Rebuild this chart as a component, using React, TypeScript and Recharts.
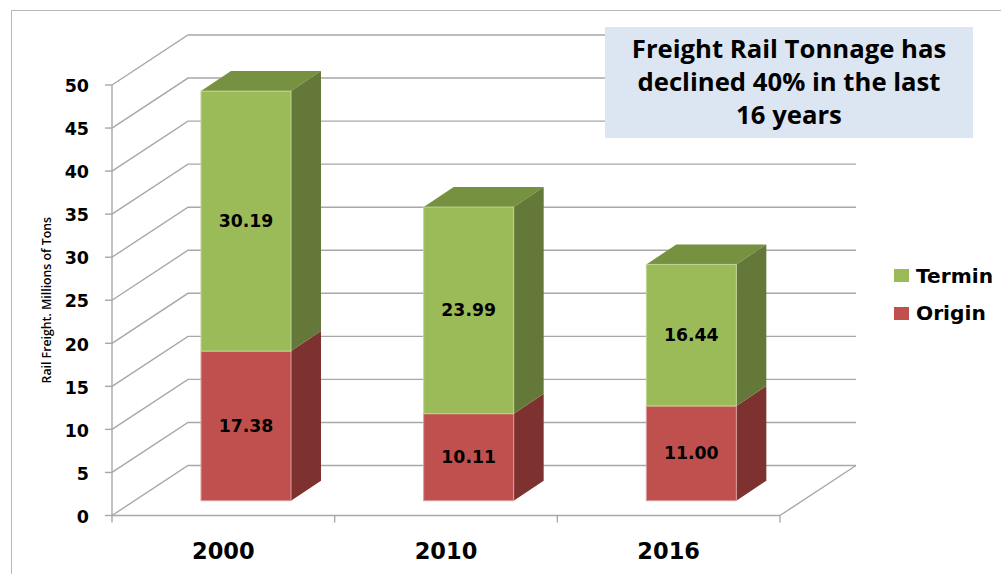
import { Bar, BarChart, CartesianGrid, LabelList, Legend, XAxis, YAxis } from "recharts";

const categories = ["2000", "2010", "2016"];
const originValues = [17.38, 10.11, 11.0];
const terminValues = [30.19, 23.99, 16.44];
const yTicks = [0, 5, 10, 15, 20, 25, 30, 35, 40, 45, 50];
const titleLines = ["Freight Rail Tonnage has", "declined 40% in the last", "16 years"];

const rows = categories.map((name, i) => ({
    name,
    Origin: originValues[i],
    Termin: terminValues[i],
}));

const WIDTH = 1001;
const HEIGHT = 574;
const LEFT = 112;
const RIGHT = 780;
const TOP = 85;
const BOTTOM = 515.5;

// fake 3d: wall depth, bar depth, and where the bars sit on the floor
const WALL_DX = 76;
const WALL_DY = 50;
const BAR_DX = 30;
const BAR_DY = 20;
const SHIFT_X = 23;
const SHIFT_Y = -14.8;

const GRID = "#a8a8a8";
const AXIS_FONT = "'DejaVu Sans', sans-serif";

const GridLine = (props: any) => {
    const { x1, x2, y1 } = props;
    return (
        <g fill="none" stroke={GRID} strokeWidth={1.4}>
            <polyline points={`${x1},${y1} ${x1 + WALL_DX},${y1 - WALL_DY} ${x2 + WALL_DX},${y1 - WALL_DY}`} />
            {y1 > BOTTOM - 1 && <line x1={x2} y1={y1} x2={x2 + WALL_DX} y2={y1 - WALL_DY} />}
        </g>
    );
};

const makeBlock = (front: string, edge: string, side: string, top?: string) => (props: any) => {
    const x = props.x + SHIFT_X;
    const y = props.y + SHIFT_Y;
    const { width, height } = props;
    const r = x + width;
    return (
        <g>
            {top && (
                <polygon
                    points={`${x},${y} ${x + BAR_DX},${y - BAR_DY} ${r + BAR_DX},${y - BAR_DY} ${r},${y}`}
                    fill={top}
                />
            )}
            <polygon
                points={`${r},${y} ${r + BAR_DX},${y - BAR_DY} ${r + BAR_DX},${y + height - BAR_DY} ${r},${y + height}`}
                fill={side}
            />
            <rect x={x} y={y} width={width} height={height} fill={front} stroke={edge} strokeWidth={1} />
        </g>
    );
};

const OriginBlock = makeBlock("#c0504d", "#dc9d9b", "#7d3230");
const TerminBlock = makeBlock("#9bbb59", "#bfd495", "#64783a", "#76913f");

const BarValue = (props: any) => {
    const { x, y, width, height, value } = props;
    return (
        <text
            x={x + SHIFT_X + width / 2}
            y={y + SHIFT_Y + height / 2}
            textAnchor="middle"
            dominantBaseline="central"
            fontFamily={AXIS_FONT}
            fontWeight={700}
            fontSize={17.3}
            fill="#000"
        >
            {Number(value).toFixed(2)}
        </text>
    );
};

const CategoryTick = (props: any) => {
    const { x, y, payload, index } = props;
    const band = (RIGHT - LEFT) / categories.length;
    return (
        <g>
            <line x1={x - band / 2} y1={BOTTOM} x2={x - band / 2} y2={BOTTOM + 7} stroke={GRID} strokeWidth={1.4} />
            {index === categories.length - 1 && (
                <line x1={x + band / 2} y1={BOTTOM} x2={x + band / 2} y2={BOTTOM + 7} stroke={GRID} strokeWidth={1.4} />
            )}
            <text
                x={x}
                y={y + 35}
                textAnchor="middle"
                fontFamily={AXIS_FONT}
                fontWeight={700}
                fontSize={22.5}
                fill="#000"
            >
                {payload.value}
            </text>
        </g>
    );
};

const LegendBox = (props: any) => {
    const items = [...props.payload].sort((a: any, b: any) => (a.value === "Termin" ? -1 : b.value === "Termin" ? 1 : 0));
    return (
        <div>
            {items.map((item: any) => (
                <div key={item.value} style={{ display: "flex", alignItems: "center", height: 37.5 }}>
                    <span style={{ width: 15, height: 13, background: item.color, marginRight: 7 }} />
                    <span style={{ fontFamily: AXIS_FONT, fontWeight: 700, fontSize: 20.2, color: "#000" }}>
                        {item.value}
                    </span>
                </div>
            ))}
        </div>
    );
};

const App = () => {
    return (
        <div style={{ position: "fixed", left: 0, top: 0, width: WIDTH, height: HEIGHT, background: "#fff", overflow: "hidden" }}>
            <div
                style={{
                    position: "absolute",
                    left: 10.5,
                    top: 9.5,
                    width: WIDTH,
                    height: HEIGHT,
                    borderLeft: "1.5px solid #b8b8b8",
                    borderTop: "1.5px solid #b8b8b8",
                }}
            />
            <BarChart
                width={WIDTH}
                height={HEIGHT}
                data={rows}
                margin={{ top: TOP, right: WIDTH - RIGHT, bottom: 0, left: 0 }}
                style={{ position: "absolute", left: 0, top: 0 }}
            >
                <CartesianGrid vertical={false} horizontal={GridLine} stroke={GRID} />
                <XAxis
                    dataKey="name"
                    height={HEIGHT - BOTTOM}
                    stroke={GRID}
                    strokeWidth={1.4}
                    tickLine={false}
                    tick={CategoryTick}
                    interval={0}
                />
                <YAxis
                    width={LEFT}
                    domain={[0, 50]}
                    ticks={yTicks}
                    interval={0}
                    stroke={GRID}
                    strokeWidth={1.4}
                    tickSize={7}
                    tickMargin={16}
                    tick={{ fontFamily: AXIS_FONT, fontWeight: 700, fontSize: 17.5, fill: "#000", dy: 1 }}
                    label={{
                        value: "Rail Freight. Millions of Tons",
                        angle: -90,
                        position: "insideLeft",
                        offset: 47,
                        style: {
                            textAnchor: "middle",
                            fontFamily: "'Open Sans', sans-serif",
                            fontWeight: 600,
                            fontSize: 12.3,
                            fill: "#000",
                        },
                    }}
                />
                <Legend
                    layout="vertical"
                    align="center"
                    verticalAlign="middle"
                    content={LegendBox}
                    wrapperStyle={{ left: 894, top: 257, width: 107 }}
                />
                <Bar dataKey="Origin" stackId="a" fill="#c0504d" barSize={90} shape={OriginBlock} isAnimationActive={false}>
                    <LabelList dataKey="Origin" content={BarValue} />
                </Bar>
                <Bar dataKey="Termin" stackId="a" fill="#9bbb59" barSize={90} shape={TerminBlock} isAnimationActive={false}>
                    <LabelList dataKey="Termin" content={BarValue} />
                </Bar>
            </BarChart>
            <div
                style={{
                    position: "absolute",
                    left: 605,
                    top: 27,
                    width: 368,
                    height: 111,
                    background: "#dce6f2",
                    paddingTop: 5,
                    boxSizing: "border-box",
                    textAlign: "center",
                    fontFamily: "'Open Sans', sans-serif",
                    fontWeight: 700,
                    fontSize: 25.7,
                    lineHeight: "33px",
                    color: "#000",
                }}
            >
                {titleLines.map((line) => (
                    <div key={line}>{line}</div>
                ))}
            </div>
        </div>
    );
};

export default App;
